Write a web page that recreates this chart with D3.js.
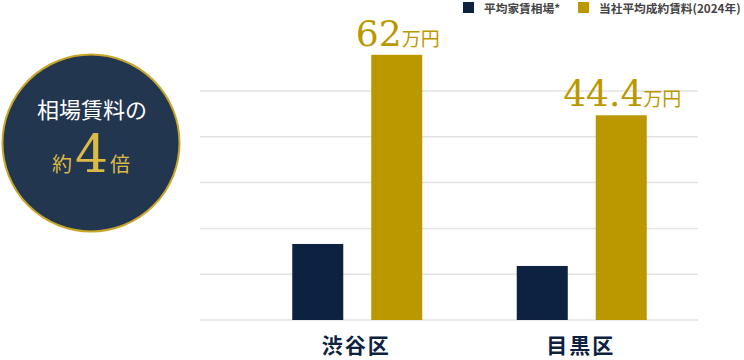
<!DOCTYPE html>
<html>
<head>
<meta charset="utf-8" />
<script src="https://d3js.org/d3.v7.min.js"></script>
<style>
  body { margin: 0; background: #fff; }
  svg { display: block; }
</style>
</head>
<body>
<svg id="chart"></svg>
<script>
// data (bar heights in the chart's 10-per-gridline scale)
var areas = ["渋谷区", "目黒区"];
var seriesKeys = ["market", "ours"];
var seriesNames = ["平均家賃相場*", "当社平均成約賃料(2024年)"];
var marketValues = [16.6, 11.8];
var oursValues = [57.9, 44.7];
var oursLabels = ["62", "44.4"];
var gridTicks = [0, 10, 20, 30, 40, 50];

var W = 744, H = 360;
var navy = "#0d2240", gold = "#bc9800";
var serifNum = "'DejaVu Serif', 'Liberation Serif', serif";
var svg = d3.select("#chart").attr("width", W).attr("height", H);

var x0 = d3.scaleBand().domain(areas).range([245, 694]);
var x1 = d3.scaleBand().domain(seriesKeys).range([0, 130]).paddingInner(0.354);
var y = d3.scaleLinear().domain([0, 50]).range([320, 91]);

// gridlines
svg.append("g").selectAll("line").data(gridTicks).join("line")
  .attr("x1", 200).attr("x2", 698)
  .attr("y1", d => y(d)).attr("y2", d => y(d))
  .attr("stroke", "#e2e2e2").attr("stroke-width", 1.5);

var rows = areas.map(function (a, i) {
  return { area: a, market: marketValues[i], ours: oursValues[i], label: oursLabels[i] };
});

var groups = svg.append("g").selectAll("g").data(rows).join("g")
  .attr("transform", d => "translate(" + (x0(d.area) + x0.bandwidth() / 2 - 65) + ",0)");

groups.selectAll("rect").data(d => seriesKeys.map(k => ({ key: k, v: d[k] }))).join("rect")
  .attr("x", d => x1(d.key))
  .attr("width", x1.bandwidth())
  .attr("y", d => y(d.v))
  .attr("height", d => y(0) - y(d.v))
  .attr("fill", d => d.key == "market" ? navy : gold);

// value labels over gold bars
var lab = groups.append("text")
  .attr("x", x1("ours") + x1.bandwidth() / 2 + 1)
  .attr("y", d => y(d.ours) - 9)
  .attr("text-anchor", "middle")
  .attr("fill", gold);
lab.append("tspan")
  .style("font-family", serifNum)
  .style("font-size", "36px")
  .text(d => d.label);
lab.append("tspan")
  .style("font-family", "'Noto Sans CJK JP', serif")
  .style("font-size", "19px")
  .text("万円");

// x labels
svg.append("g").selectAll("text").data(areas).join("text")
  .attr("x", d => x0(d) + x0.bandwidth() / 2 - 1)
  .attr("y", 353)
  .attr("text-anchor", "middle")
  .style("font-family", "'Noto Sans CJK JP', sans-serif")
  .style("font-weight", "bold")
  .style("font-size", "21px")
  .style("letter-spacing", "2px")
  .attr("fill", navy)
  .text(d => d);

// legend
var legX = [463, 578];
var leg = svg.append("g").selectAll("g").data(seriesKeys).join("g")
  .attr("transform", (d, i) => "translate(" + legX[i] + ",2)");
leg.append("rect").attr("width", 11).attr("height", 11)
  .attr("fill", d => d == "market" ? navy : gold);
leg.append("text")
  .attr("x", 21).attr("y", 10.5)
  .style("font-family", "'Noto Sans CJK JP', sans-serif")
  .style("font-weight", "bold")
  .style("font-size", "11.7px")
  .attr("fill", "#444")
  .text((d, i) => seriesNames[i]);

// badge circle
svg.append("circle")
  .attr("cx", 91).attr("cy", 143).attr("r", 88.5)
  .attr("fill", "#233650")
  .attr("stroke", "#c8a62a").attr("stroke-width", 2);
svg.append("text")
  .attr("x", 92).attr("y", 118)
  .attr("text-anchor", "middle")
  .style("font-family", "'Noto Sans CJK JP', serif")
  .style("font-size", "22px")
  .attr("fill", "#fff")
  .text("相場賃料の");
var t2 = svg.append("text")
  .attr("x", 91).attr("y", 172)
  .attr("text-anchor", "middle")
  .attr("fill", "#dcba45")
  .style("font-family", "'Noto Sans CJK JP', serif");
t2.append("tspan").style("font-size", "20px").text("約");
t2.append("tspan").style("font-size", "52px")
  .style("font-family", serifNum)
  .attr("dx", 3).text("4");
t2.append("tspan").style("font-size", "20px").attr("dx", 2).text("倍");
</script>
</body>
</html>
